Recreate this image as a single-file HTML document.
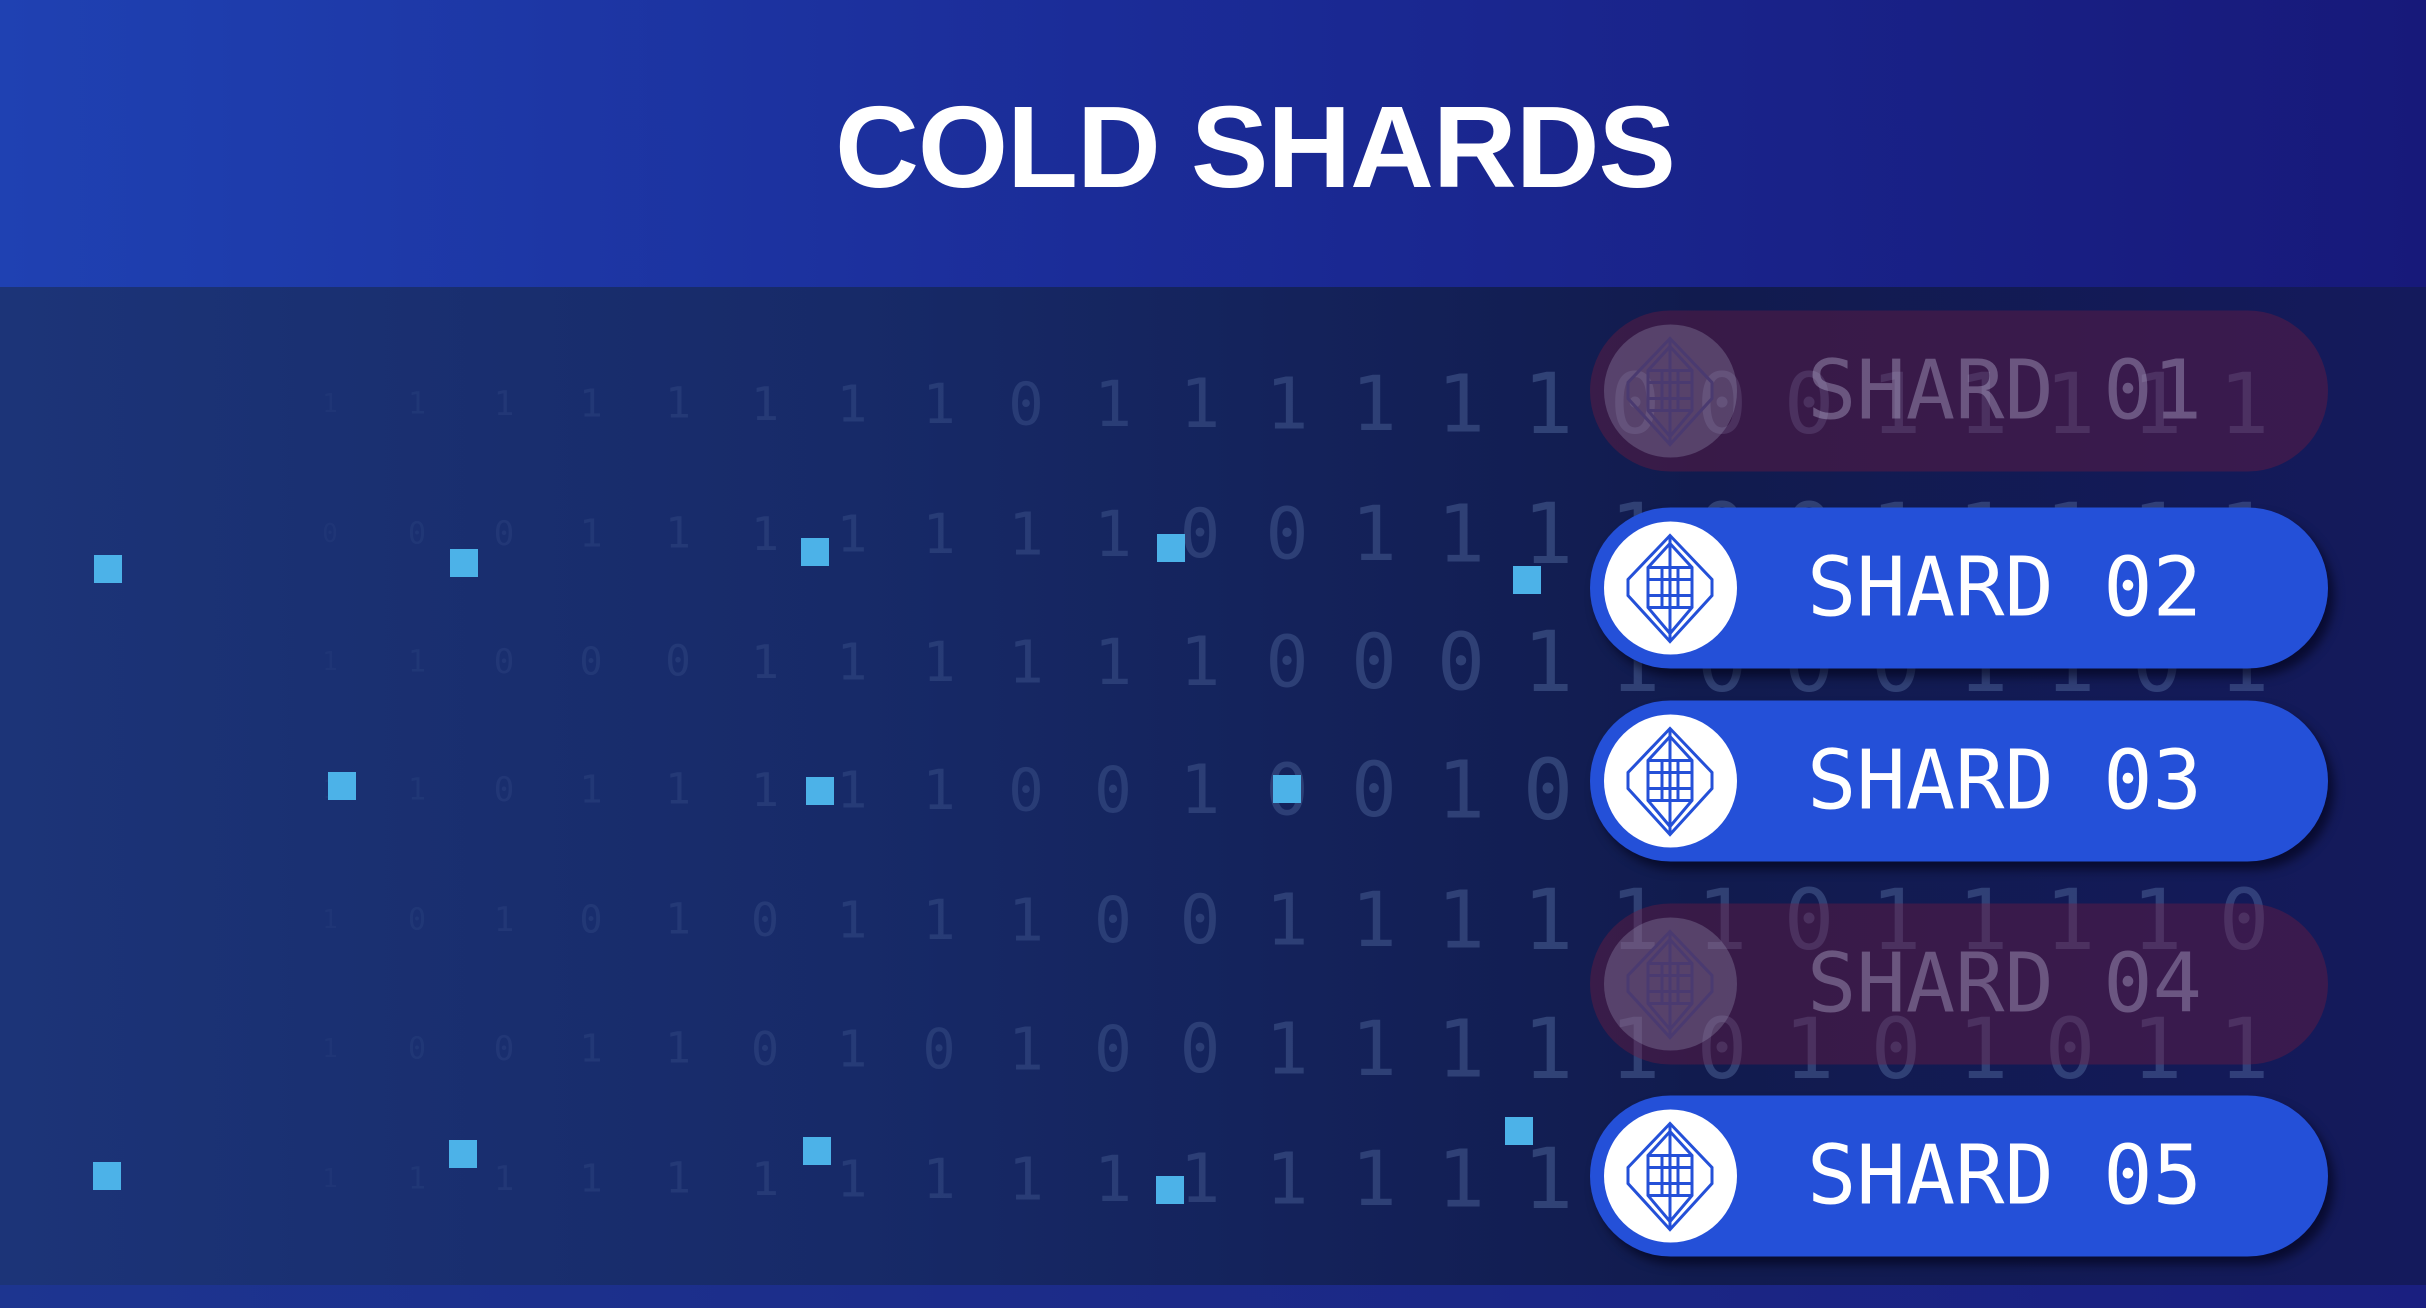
<!DOCTYPE html>
<html><head><meta charset="utf-8"><style>
html,body{margin:0;padding:0}
body{width:2426px;height:1308px;position:relative;overflow:hidden;background:#141c55;font-family:"Liberation Sans",sans-serif}
#header{position:absolute;left:0;top:0;width:2426px;height:287px;background:linear-gradient(90deg,#1f41b2 0%,#1b2c98 45%,#17197a 100%)}
#title{position:absolute;left:0;top:82px;width:2510px;text-align:center;color:#fff;font-weight:bold;font-size:116px;line-height:130px;letter-spacing:-1px}
#body{position:absolute;left:0;top:287px;width:2426px;height:998px;background:linear-gradient(90deg,#1c3478 0%,#172a68 35%,#111b4e 70%,#141a5c 100%)}
#footer{position:absolute;left:0;top:1285px;width:2426px;height:23px;background:linear-gradient(90deg,#1d3590,#1a1f80)}
.dig{position:absolute;font-family:"DejaVu Sans Mono",monospace;color:#6a85b8;transform:translate(-50%,-50%)}
.sq{position:absolute;width:28px;height:28px;background:#4cb2e8;transform:translate(-50%,-50%)}
.pill{position:absolute;left:1590px;width:738px;height:161px;border-radius:81px;transform:translateY(-50%)}
.pill.on{background:#2450d8;box-shadow:6px 8px 10px rgba(0,0,20,0.6)}
.pill.off{background:rgba(120,25,60,0.38)}
.pill .ic{position:absolute;left:14px;top:14px;width:133px;height:133px;border-radius:50%;background:#fff}
.pill.off .ic{background:rgba(160,160,190,0.3)}
.pill .lb{position:absolute;left:217px;top:0;line-height:161px;font-family:"DejaVu Sans Mono",monospace;font-size:82px;color:#fff}
.pill.off .lb{color:rgba(200,200,230,0.35)}
</style></head><body>
<div id="header"><div id="title">COLD SHARDS</div></div>
<div id="body"></div>
<div id="footer"></div>
<div id="layer"></div>
<script>
const rowsY=[404,534,662,790,920,1049,1179];
const rowDigits=["11111111011111100011111","00011111110011110011111","11000111111000110001101","11011111001001011111110","10101011100111111011110","10011010100111110101011","11111111111111111101111"];
const squares=[[108,569],[464,563],[815,552],[1171,548],[1527,580],[342,786],[820,791],[1287,789],[107,1176],[463,1154],[817,1151],[1170,1190],[1519,1131]];
const layer=document.getElementById('layer');
rowsY.forEach((y,r)=>{
  const s=rowDigits[r];
  for(let i=0;i<s.length;i++){
    const x=330+i*87;
    if(x>2420)break;
    const t=Math.min(1,(x-250)/1300);
    const d=document.createElement('div');
    d.className='dig';
    
    
    d.textContent=s[i];
    d.style.left=x+'px';d.style.top=y+'px';
    d.style.fontSize=(22+t*62)+'px';
    d.style.opacity=(0.05+t*0.3);
    layer.appendChild(d);
  }
});
squares.forEach(p=>{
  const d=document.createElement('div');
  d.className='sq';
  
  
  d.style.left=p[0]+'px';d.style.top=p[1]+'px';
  layer.appendChild(d);
});
const pills=[["SHARD 01",391,false],["SHARD 02",588,true],["SHARD 03",781,true],["SHARD 04",984,false],["SHARD 05",1176,true]];
const icon='<svg width="133" height="133" viewBox="0 0 133 133"><g fill="none" stroke="#2450d8" stroke-width="3"><polygon points="66,14 108,58 108,74 66,120 24,74 24,58"/><polygon points="66,22 88,46 88,86 66,112 44,86 44,46"/><line x1="44" y1="46" x2="88" y2="46"/><line x1="44" y1="86" x2="88" y2="86"/><line x1="44" y1="58" x2="88" y2="58"/><line x1="44" y1="74" x2="88" y2="74"/><line x1="58" y1="46" x2="58" y2="86"/><line x1="74" y1="46" x2="74" y2="86"/><line x1="66" y1="14" x2="66" y2="120"/></g></svg>';
const iconOff=icon.replace(/#2450d8/g,'#4a3a70');
pills.forEach(p=>{
  const d=document.createElement('div');
  d.className='pill '+(p[2]?'on':'off');
  
  
  d.style.top=p[1]+'px';
  d.innerHTML='<div class="ic">'+(p[2]?icon:iconOff)+'</div><div class="lb">'+p[0]+'</div>';
  layer.appendChild(d);
});
</script>
</body></html>
